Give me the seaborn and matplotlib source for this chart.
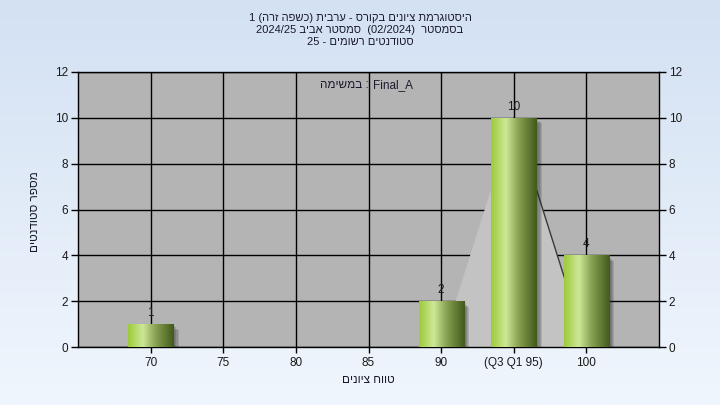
import re
import numpy as np
import pandas as pd
import matplotlib
matplotlib.use("Agg")
import matplotlib.pyplot as plt
import seaborn as sns
from matplotlib.colors import LinearSegmentedColormap
from matplotlib import patheffects as pe

# ---------------- data ----------------
categories = ["70", "75", "80", "85", "90", "(Q3 Q1 95)", "100"]
counts = [1, 0, 0, 0, 2, 10, 4]
y_ticks = [0, 2, 4, 6, 8, 10, 12]
tri_pos = [4, 5, 6]          # category positions of the quartile triangle
tri_val = [0, 10, 0]
title_lines = [
    "היסטוגרמת ציונים בקורס - ערבית (כשפה זרה) 1",
    "בסמסטר  (02/2024)  סמסטר אביב 2024/25",
    "סטודנטים רשומים - 25",
]
task_word = "במשימה"
task_name = "Final_A"
x_label = "טווח ציונים"
y_label = "מספר סטודנטים"


def rtl(s):
    """Convert a logical right-to-left string into visual order."""
    rev = s[::-1].translate(str.maketrans("()", ")("))
    return re.sub(r"[0-9A-Za-z_/\.]+", lambda m: m.group(0)[::-1], rev)


sns.set_theme(style="white")
plt.rcParams["font.family"] = ["Liberation Sans", "DejaVu Sans"]

fig = plt.figure(figsize=(7.2, 4.05), dpi=100)

# background gradient
bg = fig.add_axes([0, 0, 1, 1], zorder=-10)
grad = np.linspace(0, 1, 256).reshape(-1, 1)
bg_cmap = LinearSegmentedColormap.from_list("bg", ["#d3e1f3", "#f0f6fd"])
bg.imshow(grad, aspect="auto", cmap=bg_cmap, extent=[0, 1, 0, 1])
bg.set_axis_off()

ax = fig.add_axes([78 / 720, 1 - 347 / 405, (659 - 78) / 720, (347 - 72) / 405])
ax.set_facecolor("#b4b4b4")

df = pd.DataFrame({"cat": categories, "n": counts})
sns.barplot(data=df, x="cat", y="n", order=categories, ax=ax, width=0.62,
            color="#8fb840", saturation=1, zorder=3)

# quartile triangle (behind bars, above grid)
ax.fill(tri_pos, tri_val, color="#c3c3c3", zorder=1.5, lw=0)
ax.plot(tri_pos[1:], tri_val[1:], color="#3a3a3a", lw=1.0, zorder=1.6)

bar_cmap = LinearSegmentedColormap.from_list(
    "bar",
    [(0.0, "#9ccb3a"), (0.32, "#cde897"), (0.6, "#88a152"), (1.0, "#425a1b")],
)
hgrad = np.linspace(0, 1, 128).reshape(1, -1)
shadow = [pe.SimplePatchShadow(offset=(o, -o), shadow_rgbFace="#202020", alpha=0.14)
          for o in (4.0, 3.2, 2.4, 1.6)]
for p, v in zip(ax.patches, counts):
    if v <= 0:
        p.set_visible(False)
        continue
    x0, w, h = p.get_x(), p.get_width(), p.get_height()
    p.set_facecolor((0, 0, 0, 0))
    p.set_edgecolor("none")
    p.set_path_effects(shadow)
    p.set_zorder(2)
    im = ax.imshow(hgrad, extent=[x0, x0 + w, 0, h], aspect="auto",
                   cmap=bar_cmap, zorder=3, interpolation="bicubic")
    im.set_clip_path(p)
    ax.annotate(str(v), (x0 + w / 2, h), xytext=(0, 3.5), textcoords="offset points",
                ha="center", va="bottom", fontsize=8.5, color="#1a1a1a", zorder=5)

ax.set_xlim(-1, 7)
ax.set_ylim(0, 12)
ax.set_yticks(y_ticks)
ax.set_xticks(range(len(categories)))
ax.set_xticklabels(categories)
ax.grid(True, color="black", lw=1.0)
ax.set_axisbelow(True)
for s in ax.spines.values():
    s.set_visible(True)
    s.set_color("black")
    s.set_linewidth(1.0)
ax.tick_params(axis="y", which="both", left=True, right=True, labelleft=True,
               labelright=True, direction="out", length=5, width=1,
               color="black", labelsize=8.5, labelcolor="#1a1a1a", pad=2)
ax.tick_params(axis="x", bottom=True, direction="out", length=4, width=1,
               color="black", labelsize=8.5, labelcolor="#1a1a1a", pad=3)
ax.set_xlabel("")
ax.set_ylabel("")

# in-plot task text (colon sits just left of the 85 grid line)
ty = 1 - 85 / 405
fig.text(369 / 720, ty, rtl(task_word) + " :", ha="right", va="center",
         fontsize=8.5, color="#1a1a2e", zorder=6)
fig.text(373 / 720, ty, task_name, ha="left", va="center",
         fontsize=8.5, color="#1a1a2e", zorder=6)

# titles
for i, line in enumerate(title_lines):
    fig.text(360 / 720, 1 - (18 + i * 12) / 405, rtl(line), ha="center", va="center",
             fontsize=8, color="#1a1a2e")

fig.text(368 / 720, 1 - 380 / 405, rtl(x_label), ha="center", va="center",
         fontsize=8.5, color="#1a1a2e")
fig.text(35 / 720, 1 - 212 / 405, rtl(y_label), ha="center", va="center",
         rotation=90, fontsize=8.5, color="#1a1a2e")

fig.savefig("out.png", dpi=100)
